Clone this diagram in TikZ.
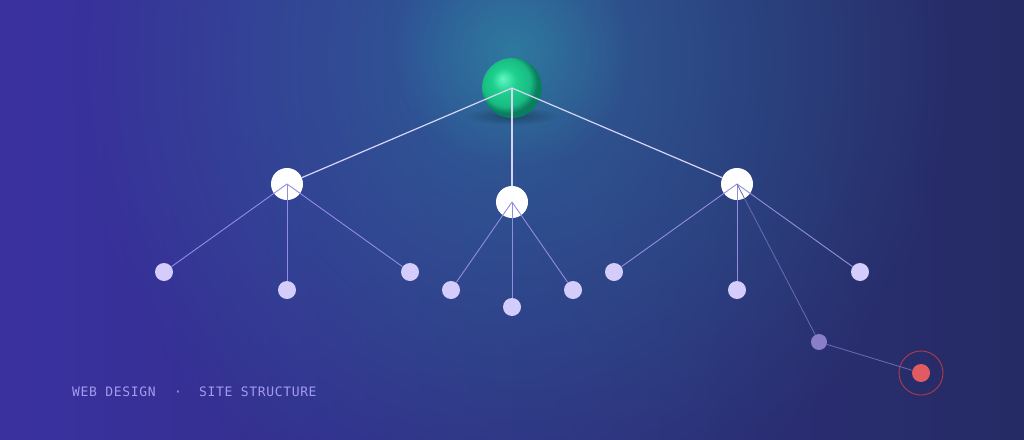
\documentclass[tikz,border=0pt]{standalone}
\usepackage{fontspec}
\usetikzlibrary{fadings}
\newfontfamily\tagfont[LetterSpace=5]{DejaVu Sans Mono}

\definecolor{bgleft}{HTML}{3A31A0}
\definecolor{bgright}{HTML}{252C64}
\definecolor{glowteal}{HTML}{2E8CA8}
\definecolor{spherelight}{HTML}{62F7C4}
\definecolor{spheremid}{HTML}{1ED08E}
\definecolor{spheredark}{HTML}{0A7E5E}
\definecolor{edgetop}{HTML}{D8D4F8}
\definecolor{edgeleaf}{HTML}{918DE0}
\definecolor{leaf}{HTML}{D4CCFA}
\definecolor{stray}{HTML}{8A7EC8}
\definecolor{target}{HTML}{E05C62}
\definecolor{targetring}{HTML}{B03A4A}
\definecolor{tagtext}{HTML}{A49BEE}

\pgfdeclareradialshading{sphere}{\pgfpoint{-8bp}{8bp}}{color(0bp)=(spherelight); color(10bp)=(spheremid); color(20bp)=(spheremid!75!spheredark); color(25bp)=(spheredark); color(50bp)=(spheredark)}
\tikzfading[name=glowfade, inner color=transparent!0, outer color=transparent!100]

\tikzset{
  hub/.style={circle, fill=white, minimum size=32pt, inner sep=0pt},
  leafnode/.style={circle, fill=leaf, minimum size=18pt, inner sep=0pt},
  topedge/.style={edgetop, line width=1.2pt},
  leafedge/.style={edgeleaf, line width=0.9pt},
  faintedge/.style={edgeleaf!65!bgright, line width=0.8pt},
  caption/.style={anchor=base west, inner sep=0pt, text=tagtext, font=\tagfont\fontsize{13}{15}\selectfont},
}

\begin{document}
\begin{tikzpicture}[x=1pt,y=-1pt]
      \useasboundingbox (0,0) rectangle (1024,439);
      \clip (0,0) rectangle (1024,439);
      % background and glow
      \shade[left color=bgleft, right color=bgright] (0,0) rectangle (1024,439);
      \fill[glowteal, opacity=0.5, path fading=glowfade] (512,60) ellipse (440 and 480);
      \fill[glowteal, opacity=0.6, path fading=glowfade] (512,50) circle (120);

      % root sphere
      \fill[black, opacity=0.3, path fading=glowfade] (512,116) ellipse (46 and 9);
      \node[circle, minimum size=60pt, inner sep=0pt, shading=sphere] (root) at (512,88) {};

      % second level
      \node[hub] (hubl) at (287,184) {};
      \node[hub] (hubm) at (512,202) {};
      \node[hub] (hubr) at (737,184) {};
      \foreach \h in {hubl, hubm, hubr}
        \draw[topedge] (root.center) -- (\h);

      % leaves
      \foreach \n/\x/\y in {la/164/272, lb/287/290, lc/410/272,
                            ma/451/290, mb/512/307, mc/573/290,
                            ra/614/272, rb/737/290, rc/860/272}
        \node[leafnode] (\n) at (\x,\y) {};
      \foreach \h/\n in {hubl/la, hubl/lb, hubl/lc, hubm/ma, hubm/mb, hubm/mc,
                         hubr/ra, hubr/rb, hubr/rc}
        \draw[leafedge] (\h.center) -- (\n);

      % stray page and target
      \node[circle, fill=stray, minimum size=16pt, inner sep=0pt] (strayp) at (819,342) {};
      \node[circle, fill=target, minimum size=18pt, inner sep=0pt] (goal) at (921,373) {};
      \node[circle, draw=targetring, minimum size=44pt, inner sep=0pt, line width=0.9pt] (ring) at (921,373) {};
      \draw[faintedge] (hubr.center) -- (strayp);
      \draw[faintedge] (strayp) -- (goal);

      % caption
      \node[caption] (web) at (72,396) {WEB DESIGN};
      \node[caption] (sep) at (174,396) {·};
      \node[caption] (site) at (199,396) {SITE STRUCTURE};
\end{tikzpicture}
\end{document}
